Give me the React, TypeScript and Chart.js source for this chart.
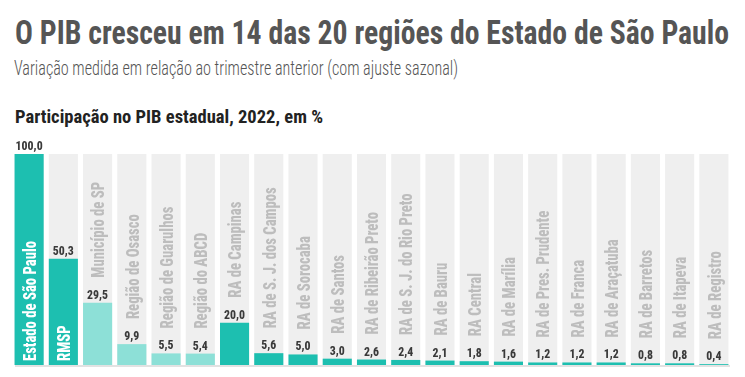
import React, { useEffect, useLayoutEffect, useRef } from "react";
import { Chart, registerables } from "chart.js";

Chart.register(...registerables);

const TITLE = "O PIB cresceu em 14 das 20 regiões do Estado de São Paulo";
const SUBTITLE = "Variação medida em relação ao trimestre anterior (com ajuste sazonal)";
const CHART_TITLE = "Participação no PIB estadual, 2022, em %";

const regions = [
  "Estado de São Paulo",
  "RMSP",
  "Município de SP",
  "Região de Osasco",
  "Região de Guarulhos",
  "Região do ABCD",
  "RA de Campinas",
  "RA de S. J. dos Campos",
  "RA de Sorocaba",
  "RA de Santos",
  "RA de Ribeirão Preto",
  "RA de S. J. do Rio Preto",
  "RA de Bauru",
  "RA Central",
  "RA de Marília",
  "RA de Pres. Prudente",
  "RA de Franca",
  "RA de Araçatuba",
  "RA de Barretos",
  "RA de Itapeva",
  "RA de Registro",
];

const shares = [100.0, 50.3, 29.5, 9.9, 5.5, 5.4, 20.0, 5.6, 5.0, 3.0, 2.6, 2.4, 2.1, 1.8, 1.6, 1.2, 1.2, 1.2, 0.8, 0.8, 0.4];

// sub-regions of the RMSP shown in a lighter tone
const isSubRegion = [false, false, true, true, true, true, false, false, false, false, false, false, false, false, false, false, false, false, false, false, false];

const TOTAL = 100;

const TEAL = "#1DBFB0";
const LIGHT_TEAL = "#8DE0D7";
const TRACK = "#EFEFEF";
const FONT = "Roboto, 'Open Sans', sans-serif";

function FitText(props: { text: string; width: number; style: React.CSSProperties }) {
  const ref = useRef<HTMLSpanElement | null>(null);
  useLayoutEffect(() => {
    const el = ref.current;
    if (!el) return;
    el.style.transform = "none";
    const w = el.getBoundingClientRect().width;
    if (w > 0) el.style.transform = `scaleX(${props.width / w})`;
  }, [props.text, props.width]);
  return (
    <span
      ref={ref}
      style={{
        position: "absolute",
        display: "inline-block",
        whiteSpace: "nowrap",
        transformOrigin: "left top",
        fontFamily: FONT,
        fontStretch: "condensed",
        lineHeight: 1,
        ...props.style,
      }}
    >
      {props.text}
    </span>
  );
}

function setFont(ctx: any, weight: string, size: number) {
  ctx.font = `${weight} ${size}px ${FONT}`;
  try {
    ctx.fontStretch = "condensed";
  } catch (e) {}
}

const labelPlugin = {
  id: "barLabels",
  afterDatasetsDraw(chart: any) {
    const ctx = chart.ctx;
    const meta = chart.getDatasetMeta(0);
    const area = chart.chartArea;
    ctx.save();
    // baseline
    ctx.strokeStyle = "#E2E2E2";
    ctx.lineWidth = 2;
    ctx.beginPath();
    ctx.moveTo(area.left + 3, area.bottom + 1);
    ctx.lineTo(area.right - 1, area.bottom + 1);
    ctx.stroke();

    const VALUE_SIZE = 13.5;
    const CAT_SIZE = 19;
    setFont(ctx, "800", VALUE_SIZE);
    const valueScale = 27 / ctx.measureText("100,0").width;
    setFont(ctx, "800", CAT_SIZE);
    const catScale = 120 / ctx.measureText(regions[0]).width;
    const catCap = CAT_SIZE * 0.711;

    meta.data.forEach((bar: any, i: number) => {
      const { x, y, base } = bar.getProps(["x", "y", "base"], true);
      // value label
      setFont(ctx, "800", VALUE_SIZE);
      ctx.fillStyle = "#3A3A3A";
      ctx.textAlign = "center";
      ctx.textBaseline = "alphabetic";
      ctx.save();
      ctx.translate(x, y - 4);
      ctx.scale(valueScale, 1);
      ctx.fillText(shares[i].toFixed(1).replace(".", ","), 0, 0);
      ctx.restore();

      // category label (rotated)
      setFont(ctx, "800", CAT_SIZE);
      const w = ctx.measureText(regions[i]).width * catScale;
      const inside = base - y > w + 12;
      const startY = inside ? base - 4 : y - 25;
      ctx.save();
      ctx.translate(x, startY);
      ctx.rotate(-Math.PI / 2);
      ctx.scale(catScale, 1);
      ctx.textAlign = "left";
      ctx.textBaseline = "alphabetic";
      ctx.fillStyle = inside ? "#FFFFFF" : "#BDBDBD";
      ctx.fillText(regions[i], 0, catCap / 2);
      ctx.restore();
    });
    ctx.restore();
  },
};

export default function App() {
  const ref = useRef<HTMLCanvasElement | null>(null);

  useEffect(() => {
    if (!ref.current) return;
    const chart = new Chart(ref.current, {
      type: "bar",
      data: {
        labels: regions,
        datasets: [
          {
            data: shares,
            backgroundColor: shares.map((_, i) => (isSubRegion[i] ? LIGHT_TEAL : TEAL)),
            grouped: false,
            order: 0,
            categoryPercentage: 1,
            barPercentage: 0.85,
          },
          {
            data: regions.map(() => TOTAL),
            backgroundColor: TRACK,
            grouped: false,
            order: 1,
            categoryPercentage: 1,
            barPercentage: 0.85,
          },
        ],
      },
      options: {
        animation: false,
        responsive: false,
        maintainAspectRatio: false,
        layout: { padding: { left: 12, right: 14, top: 24, bottom: 12 } },
        plugins: { legend: { display: false }, tooltip: { enabled: false } },
        scales: {
          x: { display: false },
          y: { display: false, min: 0, max: TOTAL },
        },
      },
      plugins: [labelPlugin],
    });
    return () => chart.destroy();
  }, []);

  return (
    <div style={{ position: "absolute", left: 0, top: 0, width: 745, height: 377, background: "#fff", overflow: "hidden" }}>
      <FitText text={TITLE} width={714} style={{ left: 15, top: 15.4, fontSize: 34, fontWeight: 700, color: "#555555" }} />
      <FitText text={SUBTITLE} width={444} style={{ left: 14, top: 58.2, fontSize: 20, fontWeight: 300, color: "#555555" }} />
      <FitText text={CHART_TITLE} width={308} style={{ left: 15, top: 107.3, fontSize: 19, fontWeight: 700, color: "#222222" }} />
      <canvas ref={ref} width={745} height={247} style={{ position: "absolute", left: 0, top: 130, width: 745, height: 247 }} />
    </div>
  );
}
